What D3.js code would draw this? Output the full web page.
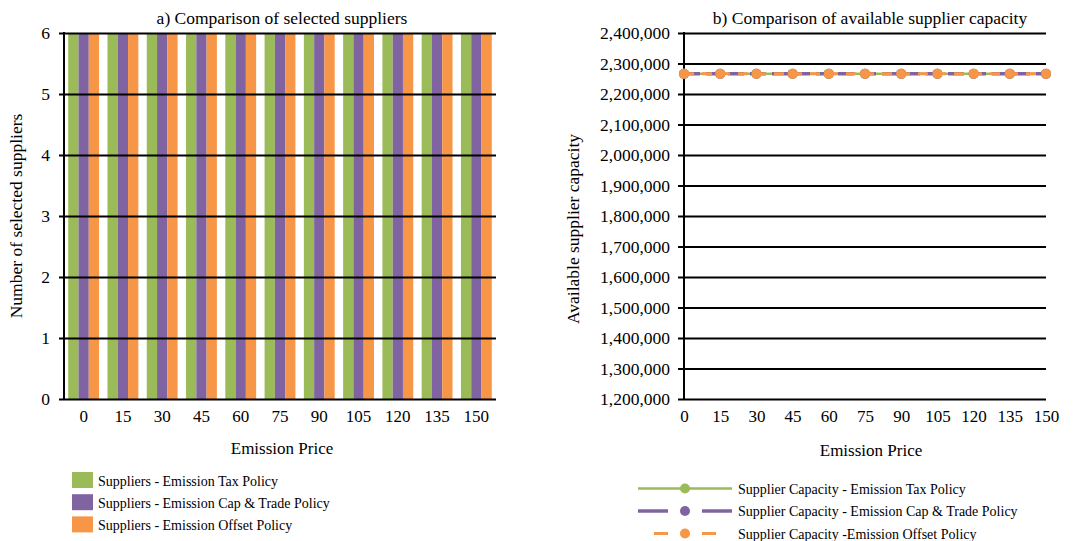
<!DOCTYPE html>
<html>
<head>
<meta charset="utf-8">
<script src="https://cdn.jsdelivr.net/npm/d3@7"></script>
<style>
  html, body { margin: 0; padding: 0; background: #fff; }
</style>
</head>
<body>
<svg id="chart" width="1073" height="541"></svg>
<script>
// Emission price levels shared by both panels
const emissionPrices = [0, 15, 30, 45, 60, 75, 90, 105, 120, 135, 150];

// Panel a: number of selected suppliers per policy
const suppliersTax = [6, 6, 6, 6, 6, 6, 6, 6, 6, 6, 6];
const suppliersCapTrade = [6, 6, 6, 6, 6, 6, 6, 6, 6, 6, 6];
const suppliersOffset = [6, 6, 6, 6, 6, 6, 6, 6, 6, 6, 6];

// Panel b: available supplier capacity per policy
const capacityTax = [2266000, 2266000, 2266000, 2266000, 2266000, 2266000, 2266000, 2266000, 2266000, 2266000, 2266000];
const capacityCapTrade = [2266000, 2266000, 2266000, 2266000, 2266000, 2266000, 2266000, 2266000, 2266000, 2266000, 2266000];
const capacityOffset = [2266000, 2266000, 2266000, 2266000, 2266000, 2266000, 2266000, 2266000, 2266000, 2266000, 2266000];

const leftTicks = [0, 1, 2, 3, 4, 5, 6];
const rightTicks = [1200000, 1300000, 1400000, 1500000, 1600000, 1700000, 1800000,
                    1900000, 2000000, 2100000, 2200000, 2300000, 2400000];

const GREEN = "#9BBB59", PURPLE = "#8064A2", ORANGE = "#F79646";
const FONT = '"Liberation Serif"';

const svg = d3.select("#chart");
const fmt = d3.format(",");

// ---------------- Panel a: grouped bars ----------------
const barSeries = [
  { name: "Suppliers - Emission Tax Policy", values: suppliersTax, color: GREEN },
  { name: "Suppliers - Emission Cap & Trade Policy", values: suppliersCapTrade, color: PURPLE },
  { name: "Suppliers - Emission Offset Policy", values: suppliersOffset, color: ORANGE }
];

const aLeft = 64, aRight = 496, aTop = 33, aBottom = 399;
const xA = d3.scaleBand().domain(emissionPrices).range([aLeft, aRight])
  .paddingInner(0.215).paddingOuter(0.1075);
const xSub = d3.scaleBand().domain(barSeries.map((s, i) => i)).range([0, xA.bandwidth()]);
const yA = d3.scaleLinear().domain([0, 6]).range([aBottom, aTop]);

const gA = svg.append("g");

gA.append("text").attr("x", 282).attr("y", 24).attr("text-anchor", "middle")
  .attr("font-size", 17.5).text("a) Comparison of selected suppliers");

// bars
barSeries.forEach((s, si) => {
  gA.append("g").selectAll("rect").data(s.values).join("rect")
    .attr("x", (d, i) => xA(emissionPrices[i]) + xSub(si))
    .attr("width", xSub.bandwidth())
    .attr("y", d => yA(d))
    .attr("height", d => yA(0) - yA(d))
    .attr("fill", s.color);
});

// horizontal gridlines with outward ticks
const yAxisA = d3.axisLeft(yA).tickValues(leftTicks).tickFormat(d3.format("d"))
  .tickSize(-(aRight - aLeft)).tickSizeOuter(0).tickPadding(14);
const gyA = gA.append("g").attr("transform", `translate(${aLeft},0)`).call(yAxisA);
gyA.select(".domain").remove();
gyA.selectAll(".tick line").attr("stroke", "#000").attr("stroke-width", 2).attr("x1", -5);
gyA.selectAll(".tick text").attr("font-size", 17.5);
gA.append("line").attr("x1", aLeft).attr("x2", aLeft).attr("y1", aTop - 1).attr("y2", aBottom + 1)
  .attr("stroke", "#000").attr("stroke-width", 2);

const xAxisA = d3.axisBottom(xA).tickSize(0).tickPadding(11);
const gxA = gA.append("g").attr("transform", `translate(0,${aBottom})`).call(xAxisA);
gxA.select(".domain").remove();
gxA.selectAll(".tick text").attr("font-size", 17);

gA.append("text").attr("x", 282).attr("y", 454).attr("text-anchor", "middle")
  .attr("font-size", 17).text("Emission Price");
gA.append("text").attr("transform", "translate(22,216) rotate(-90)").attr("text-anchor", "middle")
  .attr("font-size", 17.5).text("Number of selected suppliers");

// legend a
const legA = gA.append("g");
barSeries.forEach((s, i) => {
  const y = 472 + i * 22.2;
  legA.append("rect").attr("x", 72).attr("y", y).attr("width", 21).attr("height", 16).attr("fill", s.color);
  legA.append("text").attr("x", 98).attr("y", y + 14).attr("font-size", 14).text(s.name);
});

// ---------------- Panel b: lines ----------------
const lineSeries = [
  { name: "Supplier Capacity - Emission Tax Policy", values: capacityTax, color: GREEN, width: 2.5, dash: null, seg: 0, inset: 0 },
  { name: "Supplier Capacity - Emission Cap & Trade Policy", values: capacityCapTrade, color: PURPLE, width: 3.5, dash: "16,6", seg: 30, inset: 0 },
  { name: "Supplier Capacity -Emission Offset Policy", values: capacityOffset, color: ORANGE, width: 3, dash: "10,8", seg: 14, inset: 16 }
];

const bLeft = 684, bRight = 1046, bTop = 33, bBottom = 399;
const xB = d3.scaleLinear().domain([0, 150]).range([bLeft, bRight]);
const yB = d3.scaleLinear().domain([1200000, 2400000]).range([bBottom, bTop]);

const gB = svg.append("g");
gB.append("text").attr("x", 870).attr("y", 24).attr("text-anchor", "middle")
  .attr("font-size", 17.5).text("b) Comparison of available supplier capacity");

const yAxisB = d3.axisLeft(yB).tickValues(rightTicks).tickFormat(fmt)
  .tickSize(-(bRight - bLeft)).tickSizeOuter(0).tickPadding(14);
const gyB = gB.append("g").attr("transform", `translate(${bLeft},0)`).call(yAxisB);
gyB.select(".domain").remove();
gyB.selectAll(".tick line").attr("stroke", "#000").attr("stroke-width", 2).attr("x1", -6);
gyB.selectAll(".tick text").attr("font-size", 17.5);
gB.append("line").attr("x1", bLeft).attr("x2", bLeft).attr("y1", bTop - 1).attr("y2", bBottom + 1)
  .attr("stroke", "#000").attr("stroke-width", 2);

const xAxisB = d3.axisBottom(xB).tickValues(emissionPrices).tickSize(0).tickPadding(11);
const gxB = gB.append("g").attr("transform", `translate(0,${bBottom})`).call(xAxisB);
gxB.select(".domain").remove();
gxB.selectAll(".tick text").attr("font-size", 17);

gB.append("text").attr("x", 871).attr("y", 456).attr("text-anchor", "middle")
  .attr("font-size", 17).text("Emission Price");
gB.append("text").attr("transform", "translate(579,229) rotate(-90)").attr("text-anchor", "middle")
  .attr("font-size", 17.5).text("Available supplier capacity");

const line = d3.line().x((d, i) => xB(emissionPrices[i])).y(d => yB(d));
lineSeries.forEach(s => {
  gB.append("path").datum(s.values).attr("d", line).attr("fill", "none")
    .attr("stroke", s.color).attr("stroke-width", s.width)
    .attr("stroke-dasharray", s.dash);
  gB.append("g").selectAll("circle").data(s.values).join("circle")
    .attr("cx", (d, i) => xB(emissionPrices[i])).attr("cy", d => yB(d))
    .attr("r", 5).attr("fill", s.color);
});

// legend b: line sample, marker and label per series
const legB = gB.append("g");
const lx0 = 638, lx1 = 732, lcx = 685;
lineSeries.forEach((s, i) => {
  const y = 488.5 + i * 22.5;
  if (s.dash === null) {
    legB.append("line").attr("x1", lx0).attr("x2", lx1).attr("y1", y).attr("y2", y)
      .attr("stroke", s.color).attr("stroke-width", s.width);
  } else {
    legB.append("line").attr("x1", lx0 + s.inset).attr("x2", lx0 + s.inset + s.seg).attr("y1", y).attr("y2", y)
      .attr("stroke", s.color).attr("stroke-width", s.width);
    legB.append("line").attr("x1", lx1 - s.inset - s.seg).attr("x2", lx1 - s.inset).attr("y1", y).attr("y2", y)
      .attr("stroke", s.color).attr("stroke-width", s.width);
  }
  legB.append("circle").attr("cx", lcx).attr("cy", y).attr("r", 5).attr("fill", s.color);
  legB.append("text").attr("x", 738).attr("y", y + 5).attr("font-size", 14).text(s.name);
});

// one typeface for every label
svg.selectAll("g").attr("font-family", null);
svg.selectAll("text").style("font-family", FONT).attr("fill", "#000");
</script>
</body>
</html>
